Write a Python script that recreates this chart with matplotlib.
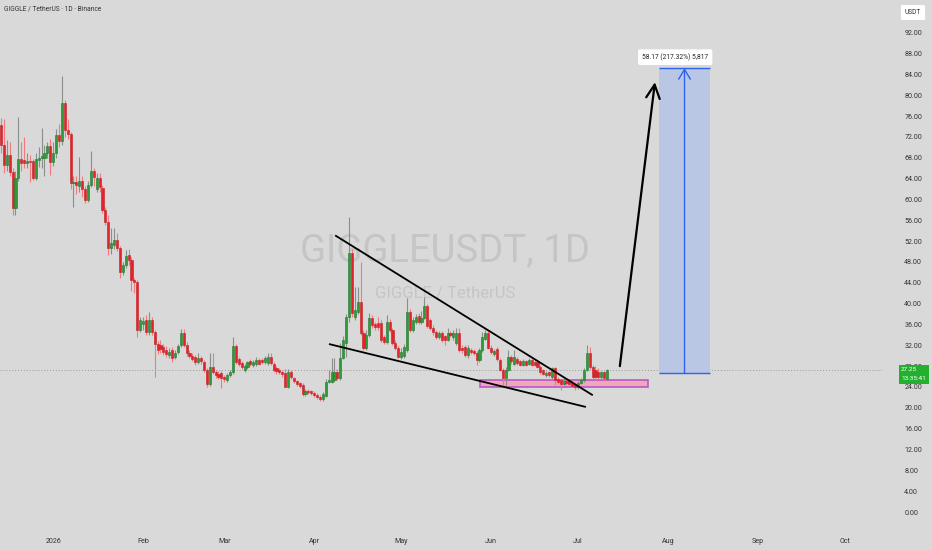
import numpy as np
import matplotlib
matplotlib.use('Agg')
import matplotlib.pyplot as plt
import matplotlib.transforms as mtransforms
from matplotlib import font_manager as fm
from matplotlib.patches import Rectangle

# daily candles, first one is 18 days before 1 Jan 2026
opens = [
    74.3, 70.4, 66.6, 68.5, 65.3, 58.3, 64.1, 67.8, 67.5, 67.0,
    67.3, 67.3, 64.2, 67.6, 68.0, 67.9, 69.0, 70.3, 67.2, 68.9,
    72.4, 71.3, 78.5, 73.3, 72.5, 63.1, 63.3, 62.6, 63.5, 62.0,
    59.9, 62.7, 65.5, 62.0, 64.1, 62.2, 58.0, 55.7, 50.7, 51.3,
    52.3, 50.7, 46.1, 47.4, 49.3, 48.4, 44.5, 44.2, 35.0, 36.0,
    36.9, 34.6, 36.9, 34.5, 32.2, 32.0, 31.7, 31.0, 30.1, 31.1,
    29.8, 30.7, 32.0, 34.4, 32.1, 30.5, 30.0, 29.8, 28.8, 29.6,
    28.8, 27.3, 24.6, 27.9, 26.9, 26.5, 26.6, 25.9, 25.3, 26.3,
    26.9, 31.9, 29.3, 28.6, 27.3, 27.9, 29.0, 28.2, 28.4, 29.2,
    29.1, 28.8, 28.6, 29.8, 28.5, 27.6, 27.3, 26.9, 26.7, 24.0,
    26.9, 25.7, 25.1, 24.7, 24.4, 22.6, 23.3, 23.2, 22.9, 22.5,
    22.1, 21.6, 22.3, 25.0, 25.0, 25.4, 26.9, 25.7, 29.6, 32.5,
    37.4, 49.7, 37.4, 38.4, 40.3, 34.4, 31.5, 34.0, 37.2, 36.0,
    36.2, 36.3, 33.5, 32.7, 36.5, 34.9, 32.4, 31.5, 29.8, 30.0,
    31.1, 38.4, 34.9, 36.5, 37.7, 36.5, 37.3, 39.5, 36.9, 35.3,
    34.6, 33.6, 34.4, 33.7, 33.1, 34.4, 33.5, 32.4, 34.4, 31.5,
    31.7, 30.1, 31.1, 30.9, 30.5, 29.2, 31.1, 33.3, 34.4, 31.5,
    30.3, 31.2, 29.2, 27.3, 25.7, 27.3, 29.8, 28.5, 29.4, 28.9,
    28.3, 28.9, 28.5, 29.2, 28.8, 28.8, 27.9, 27.2, 26.2, 26.8,
    25.9, 27.6, 25.6, 25.3, 24.6, 25.2, 25.1, 24.7, 24.5, 24.0,
    24.8, 25.3, 27.3, 30.5, 27.8, 27.2, 26.9, 25.9, 26.8, 25.5,
]
highs = [
    75.6, 75.4, 71.4, 71.0, 66.0, 65.5, 75.8, 71.0, 72.0, 69.0,
    68.5, 67.8, 69.0, 70.0, 73.7, 70.5, 71.0, 71.5, 71.0, 73.5,
    74.5, 83.7, 79.0, 75.5, 73.0, 64.5, 64.5, 68.2, 64.5, 62.5,
    63.5, 69.3, 66.0, 65.0, 65.0, 62.8, 58.5, 57.0, 54.5, 54.5,
    53.5, 51.0, 48.0, 50.3, 50.5, 49.0, 45.0, 44.5, 37.5, 37.5,
    37.8, 38.4, 37.5, 35.0, 32.8, 33.0, 32.2, 31.8, 31.5, 31.6,
    31.0, 32.3, 35.1, 35.1, 32.6, 31.0, 30.6, 30.2, 30.5, 30.0,
    29.2, 27.7, 30.5, 30.5, 27.3, 27.0, 27.0, 26.3, 26.7, 27.3,
    33.6, 32.3, 29.7, 29.0, 28.5, 29.0, 29.4, 29.2, 29.8, 29.6,
    29.5, 30.0, 30.5, 30.5, 28.8, 28.0, 27.7, 27.3, 27.5, 27.5,
    27.2, 26.0, 25.4, 25.0, 24.8, 23.6, 23.6, 23.5, 23.2, 22.8,
    22.4, 23.0, 25.5, 27.3, 29.5, 29.5, 27.5, 32.4, 33.8, 38.0,
    56.6, 50.5, 43.2, 43.2, 48.0, 35.0, 35.0, 38.2, 37.8, 36.5,
    37.5, 36.8, 34.0, 37.8, 37.0, 35.3, 33.0, 32.0, 31.5, 32.2,
    41.0, 39.0, 37.5, 38.0, 38.2, 38.5, 41.3, 40.0, 37.3, 35.8,
    35.0, 34.8, 34.8, 34.0, 35.3, 34.8, 35.0, 35.3, 35.3, 32.0,
    32.0, 32.0, 31.5, 31.3, 30.9, 31.5, 34.6, 34.9, 34.9, 32.0,
    31.3, 31.6, 29.6, 27.6, 27.8, 31.0, 30.2, 31.1, 29.8, 29.2,
    29.3, 29.2, 29.6, 29.5, 29.1, 29.1, 28.2, 27.5, 27.0, 27.1,
    27.9, 27.9, 25.9, 25.5, 25.5, 25.5, 25.3, 25.0, 24.8, 25.2,
    25.8, 27.7, 32.0, 31.7, 28.2, 28.0, 27.6, 27.0, 27.1, 27.5,
]
lows = [
    69.0, 65.0, 65.5, 64.5, 57.0, 57.0, 63.5, 65.5, 66.0, 66.0,
    63.3, 63.8, 63.8, 66.3, 66.0, 64.5, 68.0, 64.7, 66.5, 68.0,
    70.0, 70.5, 72.0, 71.5, 62.0, 58.6, 61.0, 61.5, 60.5, 59.3,
    59.5, 62.3, 62.5, 61.5, 61.5, 57.4, 55.0, 49.3, 49.5, 50.5,
    50.0, 45.0, 45.5, 46.8, 47.5, 42.5, 42.0, 33.5, 34.5, 35.0,
    34.0, 34.0, 34.0, 26.0, 30.3, 30.5, 30.2, 29.8, 29.5, 28.8,
    29.3, 30.3, 31.6, 31.6, 30.0, 29.5, 29.0, 28.3, 28.4, 28.4,
    26.8, 24.0, 24.2, 26.5, 25.8, 25.5, 23.8, 25.0, 24.9, 26.0,
    26.5, 28.5, 28.0, 27.5, 26.8, 27.5, 28.0, 27.9, 28.1, 28.2,
    28.4, 28.5, 28.3, 28.3, 26.9, 26.5, 26.5, 26.0, 23.9, 23.8,
    25.5, 24.7, 24.2, 23.8, 22.3, 22.3, 22.7, 22.4, 22.0, 21.7,
    21.3, 21.3, 22.0, 24.7, 24.7, 25.0, 25.3, 25.3, 29.3, 29.7,
    36.5, 37.5, 36.8, 38.0, 34.0, 31.0, 31.0, 33.5, 35.3, 35.0,
    35.0, 32.6, 32.2, 32.3, 34.5, 32.0, 31.0, 29.5, 29.4, 29.6,
    30.8, 34.5, 34.5, 36.0, 36.0, 36.0, 37.0, 35.3, 35.0, 34.0,
    33.2, 33.2, 32.6, 32.0, 32.8, 33.6, 33.0, 32.0, 30.8, 30.5,
    29.8, 29.5, 30.3, 30.1, 28.2, 28.8, 30.8, 33.0, 31.2, 30.4,
    30.0, 29.0, 27.0, 24.0, 24.0, 27.0, 28.5, 28.2, 28.2, 28.0,
    28.0, 28.0, 28.2, 28.0, 28.0, 27.6, 26.5, 26.2, 25.9, 26.0,
    25.6, 24.4, 24.5, 23.4, 24.3, 24.4, 24.2, 23.9, 23.5, 23.7,
    24.5, 25.0, 27.0, 27.5, 25.5, 25.6, 25.6, 25.6, 25.4, 25.3,
]
closes = [
    70.4, 66.6, 68.5, 65.3, 58.3, 64.1, 67.8, 67.0, 67.0, 67.4,
    67.2, 64.2, 67.8, 68.0, 68.3, 69.0, 70.3, 67.2, 68.9, 72.4,
    71.3, 78.5, 73.3, 72.5, 63.1, 63.3, 62.7, 63.5, 62.0, 59.9,
    62.7, 65.5, 64.3, 64.1, 62.3, 58.0, 55.7, 50.7, 51.6, 52.3,
    50.7, 46.1, 47.4, 49.1, 48.4, 44.5, 44.2, 35.0, 36.8, 36.6,
    34.6, 36.9, 34.5, 32.2, 31.0, 31.3, 30.7, 30.3, 30.7, 29.6,
    30.5, 31.8, 34.4, 32.0, 30.5, 30.0, 29.4, 28.8, 29.6, 28.9,
    27.3, 24.6, 27.9, 26.8, 26.3, 25.9, 25.7, 25.6, 26.2, 26.9,
    31.9, 28.8, 28.5, 27.9, 28.0, 28.7, 28.5, 28.8, 29.2, 28.5,
    28.8, 29.6, 29.8, 28.6, 27.3, 27.0, 26.8, 26.5, 24.0, 26.9,
    25.9, 25.1, 24.6, 24.1, 22.6, 23.2, 23.0, 22.8, 22.4, 22.0,
    21.6, 22.6, 25.0, 25.4, 26.9, 26.9, 25.7, 29.6, 33.0, 37.4,
    49.7, 38.2, 38.8, 40.3, 34.4, 31.5, 34.0, 37.2, 35.8, 35.5,
    35.5, 33.0, 32.7, 36.5, 34.9, 32.4, 31.5, 29.8, 30.7, 31.7,
    38.4, 34.9, 36.9, 37.5, 36.5, 37.3, 39.5, 35.7, 35.3, 34.5,
    33.6, 34.3, 33.0, 33.1, 34.4, 34.0, 34.4, 34.4, 31.1, 31.0,
    30.1, 31.5, 30.7, 30.5, 29.2, 31.1, 33.6, 34.4, 31.5, 30.8,
    30.9, 29.3, 27.3, 25.7, 27.3, 29.8, 28.9, 29.8, 28.6, 28.3,
    28.9, 28.3, 29.2, 28.3, 28.3, 27.9, 26.9, 26.5, 26.7, 26.3,
    27.6, 25.3, 25.0, 24.6, 25.2, 24.7, 24.5, 24.2, 24.0, 24.8,
    25.4, 27.3, 30.5, 27.8, 25.9, 26.0, 26.0, 26.8, 25.7, 27.25,
]
first_day = -18

month_days = [0, 31, 59, 90, 120, 151, 181, 212, 243, 273]
month_labels = ['2026', 'Feb', 'Mar', 'Apr', 'May', 'Jun', 'Jul', 'Aug', 'Sep', 'Oct']
price_ticks = list(range(0, 93, 4))

last_price = 27.25
countdown = '13:35:41'
target_text = '58.17 (217.32%) 5,817'
# drawings (day, price)
wedge_top = [(97.5, 53.0), (185.8, 22.5)]
wedge_bottom = [(95.4, 32.2), (183.4, 20.2)]
support_zone = (147.2, 205.1, 23.95, 25.3)
move_arrow = [(195.4, 28.0), (207.5, 82.5)]
target_box = (208.9, 226.5, 26.7, 85.2)


def pick_font(names):
    for n in names:
        try:
            fm.findfont(n, fallback_to_default=False)
            return n
        except Exception:
            pass
    return 'DejaVu Sans'


font = pick_font(['Liberation Sans Narrow', 'Roboto', 'Liberation Sans'])
plt.rcParams['font.family'] = [font, 'DejaVu Sans']

bg = '#d9d9d9'
fig = plt.figure(figsize=(9.32, 5.5), dpi=100, facecolor=bg)
ax = fig.add_axes([0, 22 / 550, 882 / 932, 528 / 550], facecolor=bg)

o = np.array(opens)
h = np.array(highs)
l = np.array(lows)
c = np.array(closes)
days = np.arange(len(c)) + first_day
up = c >= o

wick_col = np.where(up, '#8a8f8a', '#f07a7e')
body_col = np.where(up, '#2b9a37', '#e3232b')
edge_col = np.where(up, '#1f7a2a', '#c81b22')

ax.vlines(days, l, h, colors=wick_col, lw=0.8, zorder=3)
ax.bar(days, np.maximum(np.abs(c - o), 0.15), bottom=np.minimum(o, c), width=0.72,
       color=body_col, edgecolor=edge_col, linewidth=0.4, zorder=4)

ax.set_xlim(-18.34, 285.8)
ax.set_ylim(-3.07, 98.27)

# watermark
ax.text(0.5045, 0.5246, 'GIGGLEUSDT, 1D', transform=ax.transAxes, ha='center', va='center',
        fontsize=27.5, color='#c5c5c5', zorder=1)
ax.text(0.5045, 0.445, 'GIGGLE / TetherUS', transform=ax.transAxes, ha='center', va='center',
        fontsize=12, color='#c5c5c5', zorder=1)

# last price line
ax.axhline(last_price, color='#9a9a9a', lw=0.7, ls=(0, (1, 2)), zorder=2)

# falling wedge
for seg in (wedge_top, wedge_bottom):
    ax.plot([seg[0][0], seg[1][0]], [seg[0][1], seg[1][1]], color='black', lw=1.3, zorder=6)

x0, x1, y0, y1 = support_zone
ax.add_patch(Rectangle((x0, y0), x1 - x0, y1 - y0, facecolor='#f2a2b6', edgecolor='#b24fc6',
                       lw=1.2, alpha=0.9, zorder=2))

ax.annotate('', xy=move_arrow[1], xytext=move_arrow[0],
            arrowprops=dict(arrowstyle='->,head_length=0.7,head_width=0.35', color='black',
                            lw=1.6, shrinkA=0, shrinkB=0, mutation_scale=14), zorder=6)

x0, x1, y0, y1 = target_box
ax.add_patch(Rectangle((x0, y0), x1 - x0, y1 - y0, facecolor='#b9c7e4', edgecolor='none', zorder=2))
ax.hlines([y0, y1], x0, x1, color='#2e62f0', lw=1.0, zorder=3)
xm = (x0 + x1) / 2
ax.annotate('', xy=(xm, y1), xytext=(xm, y0),
            arrowprops=dict(arrowstyle='->,head_length=0.5,head_width=0.3', color='#2e62f0',
                            lw=1.0, shrinkA=0, shrinkB=0, mutation_scale=14), zorder=3)
ax.text(xm - 3.2, y1 + 2.1, target_text, ha='center', va='center', fontsize=4.8, color='#222222',
        zorder=7, bbox=dict(boxstyle='round,pad=0.6,rounding_size=0.25', fc='white', ec='none'))

# axes styling
for s in ax.spines.values():
    s.set_visible(False)
ax.yaxis.tick_right()
ax.set_yticks(price_ticks)
ax.set_yticklabels(['%.2f' % p for p in price_ticks])
ax.tick_params(axis='y', length=0, pad=16, labelsize=5.1, labelcolor='#333333')
ax.set_xticks(month_days)
ax.set_xticklabels(month_labels)
ax.tick_params(axis='x', length=0, pad=7, labelsize=5.1, labelcolor='#333333')

# price tag on the axis
tr = mtransforms.blended_transform_factory(ax.transAxes, ax.transData)
ax.add_patch(Rectangle((899 / 882, 24.6), 30 / 882, 3.7, transform=tr, facecolor='#22b02e',
                       edgecolor='none', clip_on=False, zorder=8))
ax.text(901 / 882, 27.3, '%.2f' % last_price, transform=tr, ha='left', va='center',
        fontsize=4.6, color='white', zorder=9, clip_on=False)
ax.text(901 / 882, 25.6, countdown, transform=tr, ha='left', va='center',
        fontsize=4.6, color='white', zorder=9, clip_on=False)

fig.text(4 / 932, 1 - 9 / 550, 'GIGGLE / TetherUS · 1D · Binance', ha='left', va='center',
         fontsize=4.8, color='#333333')
fig.text(913 / 932, 1 - 12.5 / 550, 'USDT', ha='center', va='center', fontsize=4.8,
         color='#333333', bbox=dict(boxstyle='round,pad=0.6,rounding_size=0.2', fc='white', ec='none'))

fig.savefig('out.png', dpi=100, facecolor=bg)
